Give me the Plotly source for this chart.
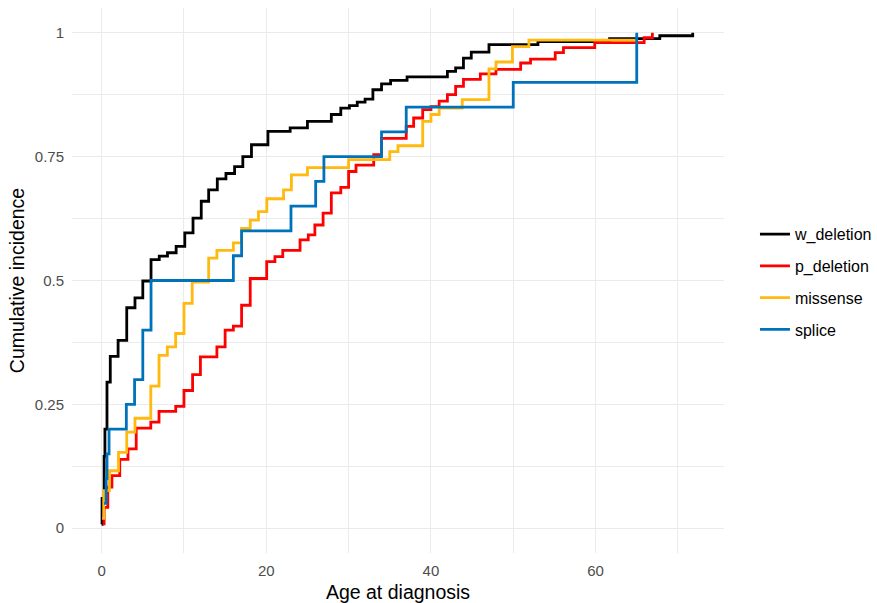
import plotly.graph_objects as go

# ---- data ----
series_names = ["w_deletion", "p_deletion", "missense", "splice"]
series_colors = ["#000000", "#FF0000", "#FFB90F", "#0072BB"]

w_deletion_age = [0.0, 0.05, 0.3, 0.4, 0.65, 1.05, 2.0, 3.05, 4.05, 5.0, 6.0, 7.0, 8.0, 9.05,
                  10.1, 11.1, 12.1, 13.0, 14.05, 15.1, 16.15, 17.15, 18.2, 20.2, 22.9, 25.0,
                  27.9, 29.05, 30.1, 31.05, 32.0, 32.95, 34.0, 35.1, 37.1, 42.0, 43.0, 43.95,
                  44.9, 47.05, 53.0, 61.7, 67.8, 71.8]
w_deletion_ci = [0.008, 0.06, 0.145, 0.2, 0.295, 0.347, 0.379, 0.445, 0.465, 0.499, 0.542, 0.549,
                 0.556, 0.569, 0.596, 0.626, 0.660, 0.683, 0.705, 0.716, 0.73, 0.75, 0.774, 0.801,
                 0.808, 0.821, 0.835, 0.848, 0.853, 0.86, 0.866, 0.885, 0.897, 0.904, 0.911, 0.922,
                 0.929, 0.949, 0.961, 0.976, 0.982, 0.988, 0.994, 1.0]

p_deletion_age = [0.12, 0.3, 0.75, 1.25, 2.2, 3.2, 4.2, 5.97, 6.97, 9.0, 10.0, 11.05, 12.0, 14.0,
                  15.0, 16.0, 17.0, 18.05, 20.05, 21.05, 22.0, 24.1, 25.1, 25.9, 26.9, 27.9, 29.05,
                  30.0, 30.9, 33.05, 34.0, 37.0, 37.9, 39.0, 40.0, 41.0, 42.0, 43.0, 43.95, 46.0,
                  47.9, 50.9, 52.1, 55.1, 56.1, 59.9, 65.9, 66.9]
p_deletion_ci = [0.009, 0.042, 0.083, 0.106, 0.139, 0.16, 0.202, 0.214, 0.236, 0.246, 0.278, 0.31,
                 0.346, 0.366, 0.40, 0.408, 0.45, 0.504, 0.538, 0.548, 0.561, 0.582, 0.592, 0.612,
                 0.636, 0.677, 0.688, 0.72, 0.733, 0.754, 0.787, 0.811, 0.828, 0.845, 0.851, 0.862,
                 0.875, 0.892, 0.906, 0.917, 0.926, 0.939, 0.947, 0.96, 0.97, 0.98, 0.99, 1.0]

missense_age = [0.05, 0.25, 0.95, 2.05, 3.05, 4.05, 5.97, 6.97, 7.98, 8.99, 10.0, 11.0, 13.0, 14.0,
                16.0, 17.0, 18.05, 19.05, 20.06, 22.1, 23.05, 25.0, 30.0, 35.0, 36.0, 39.0, 40.0,
                41.0, 43.8, 47.05, 47.9, 49.9, 51.9, 65.0]
missense_ci = [0.02, 0.076, 0.116, 0.153, 0.194, 0.222, 0.287, 0.349, 0.366, 0.393, 0.454, 0.497,
               0.545, 0.561, 0.576, 0.605, 0.622, 0.639, 0.665, 0.683, 0.713, 0.728, 0.744, 0.76,
               0.772, 0.821, 0.835, 0.848, 0.865, 0.927, 0.941, 0.972, 0.985, 0.985]

splice_age = [0.3, 0.55, 0.65, 0.9, 3.0, 4.0, 5.0, 6.0, 16.0, 17.0, 23.0, 26.0, 27.0, 34.0, 37.0,
              50.0, 65.0]
splice_ci = [0.05, 0.10, 0.15, 0.20, 0.25, 0.30, 0.40, 0.50, 0.55, 0.60, 0.65, 0.70, 0.75, 0.80,
             0.85, 0.90, 1.0]

x_ticks = [0, 20, 40, 60]
x_minor = [10, 30, 50, 70]
y_ticks = [0, 0.25, 0.5, 0.75, 1]
y_ticktext = ["0", "0.25", "0.5", "0.75", "1"]
y_minor = [0.125, 0.375, 0.625, 0.875]

ages = [w_deletion_age, p_deletion_age, missense_age, splice_age]
cis = [w_deletion_ci, p_deletion_ci, missense_ci, splice_ci]

FONT = "Liberation Sans, Arial, sans-serif"
GRID = "#EBEBEB"

fig = go.Figure()
for name, color, xa, ya in zip(series_names, series_colors, ages, cis):
    fig.add_trace(go.Scatter(
        x=xa, y=ya, mode="lines", name=name, legendgroup=name,
        line=dict(shape="hv", color=color, width=2.8),
    ))

fig.update_layout(
    width=877, height=603,
    margin=dict(l=72, r=153, t=8, b=50, autoexpand=False),
    plot_bgcolor="white", paper_bgcolor="white",
    font=dict(family=FONT, color="#000000"),
    showlegend=True,
    legend=dict(
        x=1.0475, xanchor="left", y=0.497, yanchor="middle",
        font=dict(size=16, color="#000000", family=FONT),
        tracegroupgap=8, borderwidth=0, bgcolor="rgba(0,0,0,0)",
    ),
    xaxis=dict(
        range=[-3.6, 75.6], tickvals=x_ticks, ticktext=[str(v) for v in x_ticks],
        showgrid=True, gridcolor=GRID, gridwidth=1.1,
        minor=dict(tickvals=x_minor, showgrid=True, gridcolor=GRID, gridwidth=0.7, ticks=""),
        zeroline=False, showline=False,
        ticks="outside", ticklen=4, tickcolor="rgba(0,0,0,0)",
        tickfont=dict(size=15, color="#4D4D4D", family=FONT),
        title=dict(text="Age at diagnosis", font=dict(size=19.5, color="#000000", family=FONT), standoff=7),
        automargin=False,
    ),
    yaxis=dict(
        range=[-0.05, 1.05], tickvals=y_ticks, ticktext=y_ticktext,
        showgrid=True, gridcolor=GRID, gridwidth=1.1,
        minor=dict(tickvals=y_minor, showgrid=True, gridcolor=GRID, gridwidth=0.7, ticks=""),
        zeroline=False, showline=False,
        ticks="outside", ticklen=4, tickcolor="rgba(0,0,0,0)",
        tickfont=dict(size=15, color="#4D4D4D", family=FONT),
        title=dict(text="Cumulative incidence", font=dict(size=19.5, color="#000000", family=FONT), standoff=4),
        automargin=False,
    ),
)

fig.write_html("out.html")
